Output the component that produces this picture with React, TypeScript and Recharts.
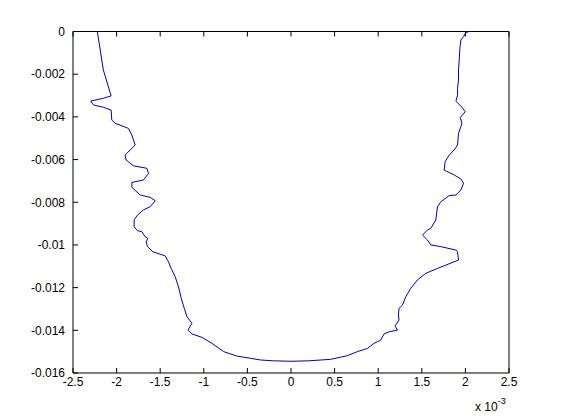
import React from 'react';
import { LineChart, Line, XAxis, YAxis, ReferenceLine } from 'recharts';

// x values are shown in units of 1e-3 (axis carries the "x 10^-3" note)
const xs = [
  -2.221, -2.152, -2.063, -2.152, -2.297, -2.267, -2.152, -2.063, -2.055, -2.017,
  -1.864, -1.825, -1.787, -1.845, -1.902, -1.891, -1.807, -1.653, -1.634, -1.692,
  -1.825, -1.825, -1.730, -1.615, -1.557, -1.615, -1.692, -1.761, -1.799, -1.799,
  -1.761, -1.710, -1.672, -1.642, -1.661, -1.646, -1.584, -1.443, -1.405, -1.374,
  -1.328, -1.290, -1.259, -1.224, -1.193, -1.136, -1.182, -1.136, -1.021, -0.906,
  -0.772, -0.619, -0.466, -0.351, -0.2, 0, 0.2, 0.454,
  0.646, 0.761, 0.876, 0.952, 1.029, 1.067, 1.124, 1.221, 1.193, 1.239,
  1.232, 1.239, 1.278, 1.316, 1.374, 1.450, 1.546, 1.680, 1.921, 1.910,
  1.891, 1.718, 1.603, 1.565, 1.508, 1.565, 1.603, 1.661, 1.680, 1.718,
  1.814, 1.891, 1.948, 1.979, 1.948, 1.871, 1.756, 1.768, 1.814, 1.871,
  1.910, 1.921, 1.948, 1.960, 1.941, 1.967, 1.998, 1.960, 1.891, 1.910,
  1.910, 1.921, 1.921, 1.929, 1.937, 1.948, 1.979, 2.006, 2.044,
];

const ys = [
  0, -0.0018, -0.00302, -0.00313, -0.00326, -0.00344, -0.00355, -0.00368, -0.00415, -0.0043,
  -0.00454, -0.00485, -0.00532, -0.00555, -0.00579, -0.00602, -0.00629, -0.00641, -0.00665, -0.00696,
  -0.00707, -0.0073, -0.00766, -0.00777, -0.00793, -0.00821, -0.00836, -0.0086, -0.00883, -0.00915,
  -0.00933, -0.00938, -0.00962, -0.00969, -0.00985, -0.01008, -0.01032, -0.01051, -0.01079, -0.0111,
  -0.01149, -0.01196, -0.0125, -0.01297, -0.01336, -0.01367, -0.01399, -0.01417, -0.01433, -0.01461,
  -0.015, -0.01521, -0.01531, -0.01539, -0.01543, -0.01545, -0.01543, -0.01536,
  -0.01519, -0.015, -0.01485, -0.01461, -0.01446, -0.01417, -0.01407, -0.01399, -0.0138, -0.01352,
  -0.01328, -0.01297, -0.01282, -0.01243, -0.01203, -0.01164, -0.01133, -0.0111, -0.01071, -0.01032,
  -0.01024, -0.01008, -0.01, -0.00977, -0.00954, -0.0093, -0.00922, -0.00883, -0.00821, -0.00798,
  -0.00769, -0.00766, -0.00743, -0.00711, -0.00691, -0.00672, -0.00649, -0.0061, -0.00579, -0.00555,
  -0.00532, -0.00477, -0.00446, -0.0043, -0.00402, -0.00391, -0.00376, -0.00355, -0.00326, -0.00298,
  -0.00266, -0.00227, -0.0018, -0.00134, -0.00079, -0.0004, -0.00024, -0.00005, 0,
];

const xTicks = [-2.5, -2, -1.5, -1, -0.5, 0, 0.5, 1, 1.5, 2, 2.5];
const yTicks = [-0.016, -0.014, -0.012, -0.01, -0.008, -0.006, -0.004, -0.002, 0];
const xDomain = [-2.5, 2.5];
const yDomain = [-0.016, 0];

const data = xs.map((x, i) => ({ x, y: ys[i] }));

const FONT = '"Liberation Sans", Arial, sans-serif';
const TICK_LEN = 5;
// recharts places tick text at tickSize (6) + tickMargin (2) from the axis line
const OFF = 8;

// MATLAB-style ticks: drawn inward from the box edge, label outside
const BottomTick = (props: any) => {
  const { x, y, payload } = props;
  const axisY = y - OFF;
  return (
    <g>
      <line x1={x} x2={x} y1={axisY} y2={axisY - TICK_LEN} stroke="#000" strokeWidth={1} />
      <text x={x} y={axisY + 4} dy="0.71em" textAnchor="middle" fontFamily={FONT} fontSize={12} fill="#000">
        {payload.value}
      </text>
    </g>
  );
};

const LeftTick = (props: any) => {
  const { x, y, payload } = props;
  const axisX = x + OFF;
  return (
    <g>
      <line x1={axisX} x2={axisX + TICK_LEN} y1={y} y2={y} stroke="#000" strokeWidth={1} />
      <text x={axisX - 8} y={y} dy="0.355em" textAnchor="end" fontFamily={FONT} fontSize={12} fill="#000">
        {payload.value}
      </text>
    </g>
  );
};

const TopTick = (props: any) => {
  const { x, y } = props;
  const axisY = y + OFF;
  return <line x1={x} x2={x} y1={axisY} y2={axisY + TICK_LEN} stroke="#000" strokeWidth={1} />;
};

const RightTick = (props: any) => {
  const { x, y } = props;
  const axisX = x - OFF;
  return <line x1={axisX} x2={axisX - TICK_LEN} y1={y} y2={y} stroke="#000" strokeWidth={1} />;
};

const App = () => {
  return (
    <div style={{ position: 'relative', width: 553, height: 411, background: '#fff' }}>
      <LineChart
        width={553}
        height={411}
        data={data}
        margin={{ top: 13.5, right: 42, left: 0, bottom: 16 }}
      >
        {/* axis stroke is transparent so the default outward tick lines vanish;
            the box is drawn by the reference lines below */}
        <XAxis
          xAxisId="bottom"
          dataKey="x"
          type="number"
          domain={xDomain}
          ticks={xTicks}
          height={30}
          stroke="transparent"
          tick={<BottomTick />}
        />
        <XAxis
          xAxisId="top"
          orientation="top"
          dataKey="x"
          type="number"
          domain={xDomain}
          ticks={xTicks}
          height={10}
          stroke="transparent"
          tick={<TopTick />}
        />
        <YAxis
          yAxisId="left"
          type="number"
          domain={yDomain}
          ticks={yTicks}
          width={65}
          stroke="transparent"
          tick={<LeftTick />}
        />
        <YAxis
          yAxisId="right"
          orientation="right"
          type="number"
          domain={yDomain}
          ticks={yTicks}
          width={10}
          stroke="transparent"
          tick={<RightTick />}
        />
        <ReferenceLine xAxisId="bottom" yAxisId="left" x={xDomain[0]} stroke="#000" />
        <ReferenceLine xAxisId="bottom" yAxisId="left" x={xDomain[1]} stroke="#000" />
        <ReferenceLine xAxisId="bottom" yAxisId="left" y={yDomain[0]} stroke="#000" />
        <ReferenceLine xAxisId="bottom" yAxisId="left" y={yDomain[1]} stroke="#000" />
        <Line
          xAxisId="bottom"
          yAxisId="left"
          type="linear"
          dataKey="y"
          stroke="#0000b4"
          strokeWidth={1}
          dot={false}
          isAnimationActive={false}
        />
      </LineChart>
      <div
        style={{
          position: 'absolute',
          left: 467,
          top: 392,
          fontFamily: FONT,
          fontSize: 12,
          color: '#000',
          whiteSpace: 'nowrap',
        }}
      >
        x 10<sup style={{ fontSize: 9, verticalAlign: 'top', position: 'relative', top: -4 }}>-3</sup>
      </div>
    </div>
  );
};

export default App;
